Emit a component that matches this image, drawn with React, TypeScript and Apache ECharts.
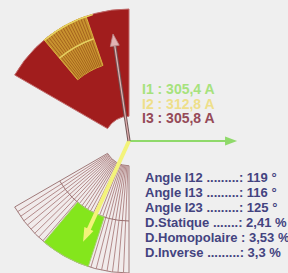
import React, { useEffect, useRef } from 'react';
import * as echarts from 'echarts';

// ---- data ----
const radiusMax = 373;
const zoneNames = ['Zone I3', 'Zone I2'];
const zoneStart = [90, 210];
const zoneEnd = [150, 270];
const zoneInner = [70, 70];
const zoneMid = [226, 226];
const zoneOuter = [373, 373];

const fineNames = ['Tol I3', 'Tol I2'];
const fineStart = [109, 230];
const fineEnd = [130, 252];
const fineInner = [226, 226];
const fineOuter = [373, 373];
const fineMark = [305.8, 0];

const phaseNames = ['I1', 'I2', 'I3'];
const currents = [305.4, 312.8, 305.8];
const phaseAngles = [0, 245.5, 98.5];

const statLabels = ['Angle I12 .........', 'Angle I13 .........', 'Angle I23 .........', 'D.Statique .......', 'D.Homopolaire ', 'D.Inverse .........'];
const statValues = ['119 °', '116 °', '125 °', '2,41 %', '3,53 %', '3,3 %'];

// ---- styles ----
const zoneFills = ['#a11d1d', '#f1ebeb'];
const zoneStrokes = ['#c06a6a', '#a07a7a'];
const fineFills = ['#c8922f', '#84e61c'];
const phaseColors = ['#8fd96a', '#f3f37a', '#e2b2b2'];
const legendColors = ['#a6e27c', '#eedf8a', '#954a58'];

function geom(params: any, api: any) {
  const cs = params.coordSys;
  const cx = cs.cx;
  const cy = cs.cy;
  const rpx = (v: number) => {
    const p = api.coord([v, 0]);
    return Math.hypot(p[0] - cx, p[1] - cy);
  };
  const th = (a: number) => -(a * Math.PI) / 180;
  return { cx, cy, rpx, th };
}

function radialLines(api: any, rIn: number, rOut: number, a0: number, a1: number, step: number, stroke: string, w: number) {
  const out: any[] = [];
  for (let a = a0 + step; a < a1 - 0.01; a += step) {
    const p1 = api.coord([rIn, a]);
    const p2 = api.coord([rOut, a]);
    out.push({
      type: 'line',
      shape: { x1: p1[0], y1: p1[1], x2: p2[0], y2: p2[1] },
      style: { stroke, lineWidth: w },
      silent: true,
    });
  }
  return out;
}

function renderZone(params: any, api: any) {
  const i = params.dataIndex;
  const g = geom(params, api);
  const rOut = api.value(0);
  const a0 = api.value(1);
  const rIn = api.value(2);
  const a1 = api.value(3);
  const rMid = api.value(4);
  const children: any[] = [
    {
      type: 'sector',
      shape: { cx: g.cx, cy: g.cy, r0: g.rpx(rIn), r: g.rpx(rOut), startAngle: g.th(a0), endAngle: g.th(a1), clockwise: false },
      style: { fill: zoneFills[i], stroke: zoneStrokes[i], lineWidth: 1 },
    },
  ];
  if (i === 1) {
    children.push(...radialLines(api, rIn, rOut, a0, a1, 2.4, '#b38b8b', 1));
    children.push({
      type: 'arc',
      shape: { cx: g.cx, cy: g.cy, r: g.rpx(rMid), startAngle: g.th(a0), endAngle: g.th(a1), clockwise: false },
      style: { stroke: '#9a7070', lineWidth: 1, fill: 'none' },
    });
  }
  return { type: 'group', children };
}

function renderFine(params: any, api: any) {
  const i = params.dataIndex;
  const g = geom(params, api);
  const rOut = api.value(0);
  const a0 = api.value(1);
  const rIn = api.value(2);
  const a1 = api.value(3);
  const mark = api.value(4);
  const children: any[] = [
    {
      type: 'sector',
      shape: { cx: g.cx, cy: g.cy, r0: g.rpx(rIn), r: g.rpx(rOut), startAngle: g.th(a0), endAngle: g.th(a1), clockwise: false },
      style: { fill: fineFills[i], stroke: i === 0 ? '#d8b040' : '#a6d070', lineWidth: 1 },
    },
  ];
  if (i === 0) {
    children.push(...radialLines(api, rIn, rOut, a0, a1, 1.25, '#a5631e', 1));
    children.push({
      type: 'arc',
      shape: { cx: g.cx, cy: g.cy, r: g.rpx(rOut) - 0.5, startAngle: g.th(a0 - 3), endAngle: g.th(a1), clockwise: false },
      style: { stroke: '#e6d462', lineWidth: 1.5, fill: 'none' },
    });
    if (mark > 0) {
      children.push({
        type: 'arc',
        shape: { cx: g.cx, cy: g.cy, r: g.rpx(mark), startAngle: g.th(a0), endAngle: g.th(a1), clockwise: false },
        style: { stroke: '#e6d060', lineWidth: 1.5, fill: 'none' },
      });
    }
  }
  return { type: 'group', children };
}

function renderArrow(params: any, api: any) {
  const i = params.dataIndex;
  const cs = params.coordSys;
  const cx = cs.cx;
  const cy = cs.cy;
  const tip = api.coord([api.value(0), api.value(1)]);
  const dx = tip[0] - cx;
  const dy = tip[1] - cy;
  const len = Math.hypot(dx, dy);
  const ux = dx / len;
  const uy = dy / len;
  const nx = -uy;
  const ny = ux;
  const headL = i === 1 ? 14 : 12;
  const headW = i === 1 ? 5 : 4.5;
  const bx = tip[0] - ux * headL;
  const by = tip[1] - uy * headL;
  const head = [
    [tip[0], tip[1]],
    [bx + nx * headW, by + ny * headW],
    [bx - nx * headW, by - ny * headW],
  ];
  const children: any[] = [];
  if (i === 2) {
    children.push({ type: 'line', shape: { x1: cx, y1: cy, x2: bx, y2: by }, style: { stroke: '#715656', lineWidth: 3.2 } });
    children.push({ type: 'line', shape: { x1: cx, y1: cy, x2: bx, y2: by }, style: { stroke: phaseColors[i], lineWidth: 1.2 } });
    children.push({ type: 'polygon', shape: { points: head }, style: { fill: phaseColors[i], stroke: '#b88888', lineWidth: 0.8 } });
  } else {
    children.push({ type: 'line', shape: { x1: cx, y1: cy, x2: bx + ux, y2: by + uy }, style: { stroke: phaseColors[i], lineWidth: i === 1 ? 4 : 2 } });
    children.push({ type: 'polygon', shape: { points: head }, style: { fill: phaseColors[i] } });
  }
  return { type: 'group', children };
}

export default function App() {
  const ref = useRef<HTMLDivElement>(null);
  useEffect(() => {
    document.body.style.margin = '0';
    const chart = echarts.init(ref.current!, null, { renderer: 'svg' });
    const font = '"Liberation Sans", Arial, sans-serif';
    const graphic: any[] = [];
    phaseNames.forEach((n, i) => {
      graphic.push({
        type: 'text',
        x: 142,
        y: 89 + i * 14.5,
        style: {
          text: n + ' : ' + currents[i].toFixed(1).replace('.', ',') + ' A',
          fill: legendColors[i],
          font: 'bold 14px ' + font,
          verticalAlign: 'middle',
        },
        silent: true,
      });
    });
    statLabels.forEach((l, i) => {
      graphic.push({
        type: 'text',
        x: 145,
        y: 177 + i * 15,
        style: {
          text: l + ': ' + statValues[i],
          fill: '#43437f',
          font: 'bold 13px ' + font,
          verticalAlign: 'middle',
        },
        silent: true,
      });
    });
    chart.setOption({
      animation: false,
      backgroundColor: '#efefef',
      polar: { center: [129, 141], radius: 132 },
      angleAxis: {
        type: 'value',
        min: 0,
        max: 360,
        startAngle: 0,
        clockwise: false,
        show: false,
      },
      radiusAxis: { type: 'value', min: 0, max: radiusMax, show: false },
      series: [
        {
          type: 'custom',
          coordinateSystem: 'polar',
          renderItem: renderZone,
          data: zoneNames.map((n, i) => ({ name: n, value: [zoneOuter[i], zoneStart[i], zoneInner[i], zoneEnd[i], zoneMid[i]] })),
          silent: true,
        },
        {
          type: 'custom',
          coordinateSystem: 'polar',
          renderItem: renderFine,
          data: fineNames.map((n, i) => ({ name: n, value: [fineOuter[i], fineStart[i], fineInner[i], fineEnd[i], fineMark[i]] })),
          silent: true,
        },
        {
          type: 'custom',
          coordinateSystem: 'polar',
          renderItem: renderArrow,
          data: phaseNames.map((n, i) => ({ name: n, value: [currents[i], phaseAngles[i]] })),
          silent: true,
        },
      ],
      graphic,
    });
    return () => chart.dispose();
  }, []);
  return <div ref={ref} style={{ width: 288, height: 273, position: 'absolute', left: 0, top: 0 }} />;
}
